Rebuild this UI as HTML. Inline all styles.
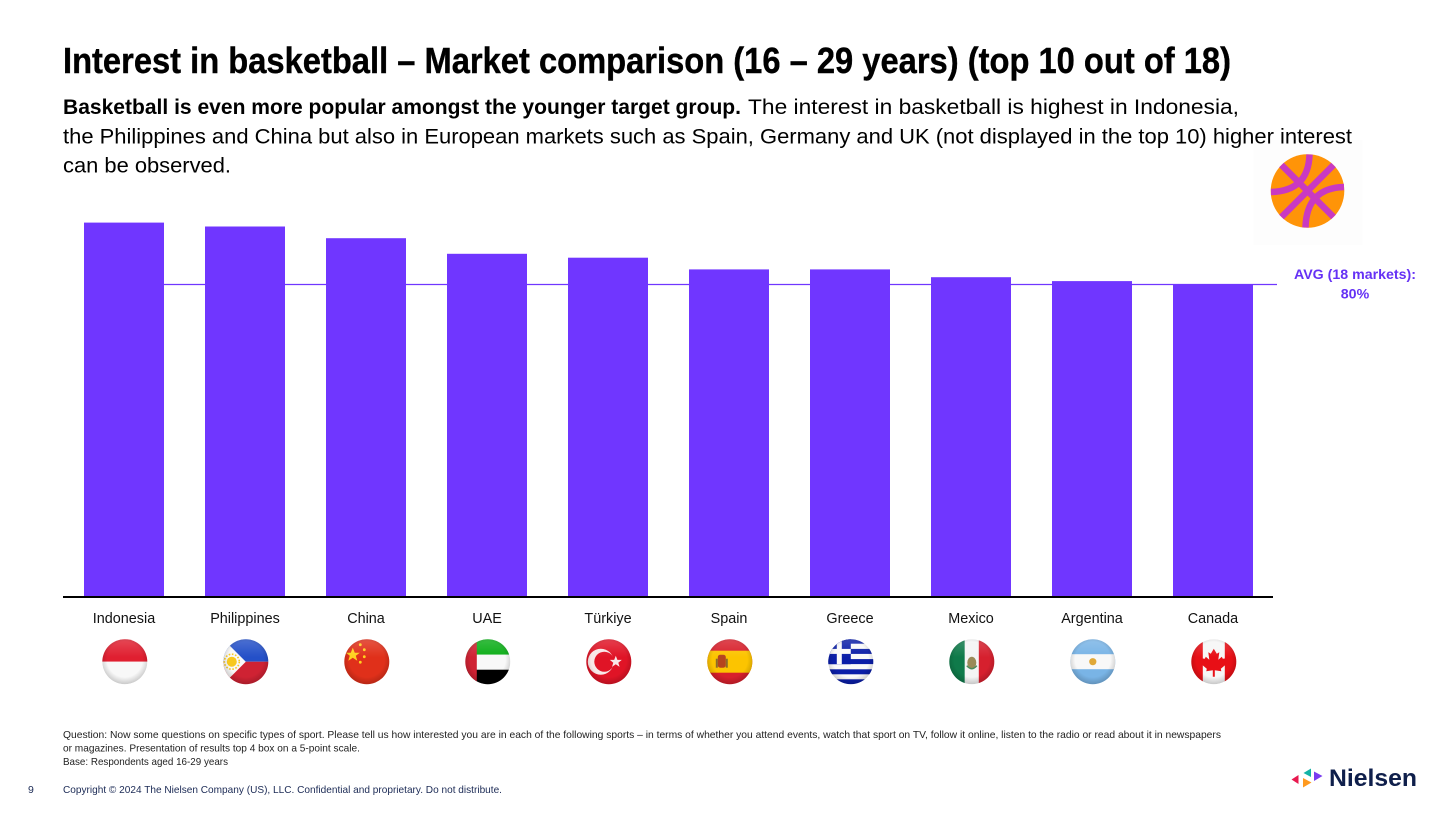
<!DOCTYPE html>
<html lang="en">
<head>
<meta charset="utf-8">
<title>Interest in basketball – Market comparison</title>
<style>
html,body{margin:0;padding:0;background:#fff;}
svg{display:block;font-family:"Liberation Sans",sans-serif;}
</style>
</head>
<body>
<svg id="chart" xmlns="http://www.w3.org/2000/svg" width="1456" height="819" viewBox="0 0 1456 819">
<defs>
  <clipPath id="flag-clip"><circle cx="0" cy="0" r="22.5"/></clipPath>
  <radialGradient id="shade" cx="50%" cy="45%" r="56%">
    <stop offset="0.7" stop-color="#000" stop-opacity="0"/>
    <stop offset="1" stop-color="#000" stop-opacity="0.2"/>
  </radialGradient>
  <linearGradient id="gloss" x1="0" y1="0" x2="0" y2="1">
    <stop offset="0" stop-color="#fff" stop-opacity="0.18"/>
    <stop offset="0.4" stop-color="#fff" stop-opacity="0"/>
    <stop offset="1" stop-color="#fff" stop-opacity="0"/>
  </linearGradient>
  <g id="flag-finish">
    <circle r="22.5" fill="url(#gloss)"/>
    <circle r="22.5" fill="url(#shade)"/>
  </g>
</defs>

<rect width="1456" height="819" fill="#fff"/>

<g transform="translate(1307.5 191)">
  <rect x="-54" y="-51" width="109" height="105" fill="#fdfdfd"/>
  <circle r="36.8" fill="#ff9408"/>
  <g fill="none" stroke="#c939c2" stroke-width="6.5">
    <path d="M-26,-26 L26,26"/>
    <path d="M26,-26 L-26,26"/>
    <path d="M2,-36.5 Q1,0 -36.5,1"/>
    <path d="M-2,36.5 Q-1,-3 36.5,-4"/>
  </g>
</g>

<text x="63" y="73" font-size="36" font-weight="700" fill="#000" stroke="#000" stroke-width="0.4" textLength="1168" lengthAdjust="spacingAndGlyphs">Interest in basketball – Market comparison (16 – 29 years) (top 10 out of 18)</text>

<g font-size="21.5" fill="#000">
  <text x="63" y="114" font-weight="700" textLength="678" lengthAdjust="spacingAndGlyphs">Basketball is even more popular amongst the younger target group.</text>
  <text x="748" y="114" textLength="491" lengthAdjust="spacingAndGlyphs">The interest in basketball is highest in Indonesia,</text>
  <text x="63" y="143.5" textLength="1289" lengthAdjust="spacingAndGlyphs">the Philippines and China but also in European markets such as Spain, Germany and UK (not displayed in the top 10) higher interest</text>
  <text x="63" y="172.5" textLength="168" lengthAdjust="spacingAndGlyphs">can be observed.</text>
</g>

<g id="avg-layer"></g>
<g id="bar-layer"></g>
<line x1="63" x2="1273" y1="597" y2="597" stroke="#000" stroke-width="2"/>
<g id="label-layer"></g>

<g id="flag-layer">
  <g class="flag">
    <g clip-path="url(#flag-clip)">
      <rect x="-23" y="-23" width="46" height="23" fill="#e01f30"/>
      <rect x="-23" y="0" width="46" height="23" fill="#f8f8f8"/>
      <use href="#flag-finish"/>
    </g>
  </g>
  <g class="flag">
    <g clip-path="url(#flag-clip)">
      <rect x="-23" y="-23" width="46" height="23" fill="#2450c8"/>
      <rect x="-23" y="0" width="46" height="23" fill="#cf2233"/>
      <polygon points="-23,-23 0,0 -23,23" fill="#f8f8f8"/>
      <circle cx="-14" cy="0" r="5" fill="#f7c81e"/>
      <circle cx="-14" cy="0" r="7.5" fill="none" stroke="#f7c81e" stroke-width="1.6" stroke-dasharray="1.6 1.6"/>
      <use href="#flag-finish"/>
    </g>
  </g>
  <g class="flag">
    <g clip-path="url(#flag-clip)">
      <rect x="-23" y="-23" width="46" height="46" fill="#e0301a"/>
      <polygon points="-14,-14 -12,-9 -7,-9 -11,-6 -9.5,-1 -14,-4 -18.5,-1 -17,-6 -21,-9 -16,-9" fill="#ffd21e"/>
      <circle cx="-6.5" cy="-17" r="1.4" fill="#ffd21e"/>
      <circle cx="-2.5" cy="-12" r="1.4" fill="#ffd21e"/>
      <circle cx="-2.5" cy="-5" r="1.4" fill="#ffd21e"/>
      <circle cx="-6.5" cy="0.5" r="1.4" fill="#ffd21e"/>
      <use href="#flag-finish"/>
    </g>
  </g>
  <g class="flag">
    <g clip-path="url(#flag-clip)">
      <rect x="-23" y="-23" width="46" height="16" fill="#0cae18"/>
      <rect x="-23" y="-7" width="46" height="15" fill="#f8f8f8"/>
      <rect x="-23" y="8" width="46" height="15" fill="#000"/>
      <rect x="-23" y="-23" width="12" height="46" fill="#cf2233"/>
      <use href="#flag-finish"/>
    </g>
  </g>
  <g class="flag">
    <g clip-path="url(#flag-clip)">
      <rect x="-23" y="-23" width="46" height="46" fill="#e01426"/>
      <circle cx="-8" cy="0" r="13" fill="#f8e8e8"/>
      <circle cx="-4.5" cy="0" r="10" fill="#e01426"/>
      <polygon points="4,-6 5.6,-1.8 10,-1.8 6.5,1 7.8,5.2 4,2.6 0.2,5.2 1.5,1 -2,-1.8 2.4,-1.8" fill="#f8e8e8" transform="translate(3 0)"/>
      <use href="#flag-finish"/>
    </g>
  </g>
  <g class="flag">
    <g clip-path="url(#flag-clip)">
      <rect x="-23" y="-23" width="46" height="46" fill="#d8202c"/>
      <rect x="-23" y="-11" width="46" height="22" fill="#fcc400"/>
      <rect x="-12" y="-7" width="8" height="13" rx="2.5" fill="#b5441e"/>
      <rect x="-14" y="-3" width="2" height="9" fill="#8c6a2a"/>
      <rect x="-4" y="-3" width="2" height="9" fill="#8c6a2a"/>
      <use href="#flag-finish"/>
    </g>
  </g>
  <g class="flag">
    <g clip-path="url(#flag-clip)">
      <rect x="-23" y="-23" width="46" height="46" fill="#fafafa"/>
      <g fill="#0a1ea8">
        <rect x="-23" y="-23" width="46" height="5"/>
        <rect x="-23" y="-12.8" width="46" height="5"/>
        <rect x="-23" y="-2.6" width="46" height="5"/>
        <rect x="-23" y="7.6" width="46" height="5"/>
        <rect x="-23" y="17.6" width="46" height="5"/>
        <rect x="-23" y="-23" width="23" height="25.5"/>
      </g>
      <rect x="-23" y="-12.8" width="23" height="5" fill="#fafafa"/>
      <rect x="-14" y="-23" width="5" height="25.5" fill="#fafafa"/>
      <use href="#flag-finish"/>
    </g>
  </g>
  <g class="flag">
    <g clip-path="url(#flag-clip)">
      <rect x="-23" y="-23" width="16" height="46" fill="#0f7a4a"/>
      <rect x="-7" y="-23" width="14" height="46" fill="#f4f4f4"/>
      <rect x="7" y="-23" width="16" height="46" fill="#d6202e"/>
      <ellipse cx="0" cy="1" rx="4.5" ry="6" fill="#9a8a58"/>
      <path d="M-5,4 Q0,10 5,4" fill="none" stroke="#4c8a5c" stroke-width="1.5"/>
      <use href="#flag-finish"/>
    </g>
  </g>
  <g class="flag">
    <g clip-path="url(#flag-clip)">
      <rect x="-23" y="-23" width="46" height="46" fill="#79b4e6"/>
      <rect x="-23" y="-7.5" width="46" height="15" fill="#f8f8f8"/>
      <circle cx="0" cy="0" r="3.6" fill="#e0a838"/>
      <use href="#flag-finish"/>
    </g>
  </g>
  <g class="flag">
    <g clip-path="url(#flag-clip)">
      <rect x="-23" y="-23" width="46" height="46" fill="#f6f6f6"/>
      <rect x="-23" y="-23" width="12" height="46" fill="#e80f16"/>
      <rect x="11" y="-23" width="12" height="46" fill="#e80f16"/>
      <polygon points="0,-13 3,-8 5.5,-9.5 4.5,-2 8,-5 9,-3 13,-3.5 11.5,1 13,2 7,7 7.5,9.5 1,8.5 1,15 -1,15 -1,8.5 -7.5,9.5 -7,7 -13,2 -11.5,1 -13,-3.5 -9,-3 -8,-5 -4.5,-2 -5.5,-9.5 -3,-8" fill="#e80f16"/>
      <use href="#flag-finish"/>
    </g>
  </g>
</g>

<g font-size="10.5" fill="#222">
  <text x="63" y="738" textLength="1158" lengthAdjust="spacingAndGlyphs">Question: Now some questions on specific types of sport. Please tell us how interested you are in each of the following sports – in terms of whether you attend events, watch that sport on TV, follow it online, listen to the radio or read about it in newspapers</text>
  <text x="63" y="751.5" textLength="297" lengthAdjust="spacingAndGlyphs">or magazines. Presentation of results top 4 box on a 5-point scale.</text>
  <text x="63" y="765" textLength="165" lengthAdjust="spacingAndGlyphs">Base: Respondents aged 16-29 years</text>
</g>

<text x="28" y="793" font-size="10.5" fill="#1b2a55">9</text>
<text x="63" y="793" font-size="10.5" fill="#1b2a55" textLength="439" lengthAdjust="spacingAndGlyphs">Copyright © 2024 The Nielsen Company (US), LLC. Confidential and proprietary. Do not distribute.</text>

<g>
  <polygon points="1298.5,775 1298.5,784 1291.5,779.5" fill="#e8194f"/>
  <polygon points="1311,768.5 1311,777 1303.5,773" fill="#14b3a6"/>
  <polygon points="1314,771.5 1322.5,776 1314,781" fill="#7a3cf0"/>
  <polygon points="1303,778 1311.5,782.5 1303,787.5" fill="#ff9a1f"/>
  <text x="1329" y="786" font-size="24" font-weight="700" fill="#0f1f4b" textLength="88" lengthAdjust="spacingAndGlyphs">Nielsen</text>
</g>

<script>
const categories = ["Indonesia","Philippines","China","UAE","Türkiye","Spain","Greece","Mexico","Argentina","Canada"];
const interestValues = [96,95,92,88,87,84,84,82,81,80];
const averageValue = 80;
const averageLabel = "AVG (18 markets):";

const NS = "http://www.w3.org/2000/svg";
const baselineY = 597, pxPerPoint = 3.9, firstCenter = 124, bandStep = 121, barWidth = 80;
function xScale(i){ return firstCenter + i * bandStep; }
function yScale(v){ return baselineY - v * pxPerPoint; }

const avgLayer = document.getElementById("avg-layer");
const barLayer = document.getElementById("bar-layer");
const labelLayer = document.getElementById("label-layer");

const avgLine = document.createElementNS(NS, "line");


avgLine.setAttribute("x1", xScale(0));
avgLine.setAttribute("x2", 1277);
avgLine.setAttribute("y1", yScale(averageValue) - 0.5);
avgLine.setAttribute("y2", yScale(averageValue) - 0.5);
avgLine.setAttribute("stroke", "#7036ff");
avgLine.setAttribute("stroke-width", "1.2");
avgLayer.appendChild(avgLine);

const avgText1 = document.createElementNS(NS, "text");


avgText1.setAttribute("x", 1355);
avgText1.setAttribute("y", 279);
avgText1.setAttribute("text-anchor", "middle");
avgText1.setAttribute("font-size", "14.2");
avgText1.setAttribute("font-weight", "700");
avgText1.setAttribute("fill", "#6531f5");
avgText1.textContent = averageLabel;
avgLayer.appendChild(avgText1);

const avgText2 = document.createElementNS(NS, "text");


avgText2.setAttribute("x", 1355);
avgText2.setAttribute("y", 298.5);
avgText2.setAttribute("text-anchor", "middle");
avgText2.setAttribute("font-size", "14.2");
avgText2.setAttribute("font-weight", "700");
avgText2.setAttribute("fill", "#6531f5");
avgText2.textContent = averageValue + "%";
avgLayer.appendChild(avgText2);

categories.forEach(function(name, i){
  const bar = document.createElementNS(NS, "rect");
  
  
  bar.setAttribute("x", xScale(i) - barWidth / 2);
  bar.setAttribute("y", yScale(interestValues[i]));
  bar.setAttribute("width", barWidth);
  bar.setAttribute("height", baselineY - yScale(interestValues[i]));
  bar.setAttribute("fill", "#7036ff");
  barLayer.appendChild(bar);

  const label = document.createElementNS(NS, "text");
  
  
  label.setAttribute("x", xScale(i));
  label.setAttribute("y", 623);
  label.setAttribute("text-anchor", "middle");
  label.setAttribute("font-size", "14.4");
  label.setAttribute("fill", "#111");
  label.textContent = name;
  labelLayer.appendChild(label);
});

document.querySelectorAll("#flag-layer .flag").forEach(function(flag, i){
  flag.setAttribute("transform", "translate(" + (xScale(i) + 0.8) + " 661.7)");
});
</script>
</svg>
</body>
</html>
